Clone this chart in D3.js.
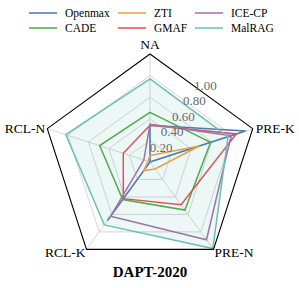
<!DOCTYPE html>
<html>
<head>
<meta charset="utf-8">
<script src="https://cdn.jsdelivr.net/npm/d3@7"></script>
<style>
  body { margin: 0; background: #fff; }
  svg { display: block; }
  text { font-family: "Liberation Serif", "Times New Roman", Times, serif; }
</style>
</head>
<body>
<div id="chart"></div>
<script>
// radar chart, DAPT-2020

var width = 299, height = 288;
var cx = 150, cy = 162, R = 108;

var axes = ["NA", "PRE-K", "PRE-N", "RCL-K", "RCL-N"];
var ticks = [0.2, 0.4, 0.6, 0.8, 1.0];
var tickLabels = ["0.20", "0.40", "0.60", "0.80", "1.00"];
var seriesNames = ["Openmax", "CADE", "ZTI", "GMAF", "ICE-CP", "MalRAG"];
var colors = ["#4C72B0", "#4DAA3F", "#F39C3C", "#E8474F", "#A66CA4", "#6CBFB5"];

var openmax = [0.34, 0.93, 0.0, 0.67, 0.0];
var cade    = [0.46, 0.59, 0.55, 0.43, 0.49];
var zti     = [0.06, 0.48, 0.08, 0.10, 0.02];
var gmaf    = [0.34, 0.84, 0.49, 0.42, 0.26];
var icecp   = [0.35, 0.79, 0.89, 0.62, 0.06];
var malrag  = [0.77, 0.76, 0.99, 0.72, 0.82];
var values = [openmax, cade, zti, gmaf, icecp, malrag];

var svg = d3.select("#chart").append("svg")
    .attr("width", width)
    .attr("height", height);

var r = d3.scaleLinear().domain([0, 1]).range([0, R]);
var angle = d3.scaleLinear().domain([0, axes.length]).range([0, 2 * Math.PI]);

function pt(i, v) {
    var a = angle(i);
    return [cx + r(v) * Math.sin(a), cy - r(v) * Math.cos(a)];
}

var line = d3.line().curve(d3.curveLinearClosed);

// grid rings
svg.selectAll(".ring")
    .data(ticks.slice(0, -1))
    .enter().append("path")
    .attr("d", function(t) { return line(axes.map(function(_, i) { return pt(i, t); })); })
    .style("fill", "none")
    .style("stroke", "#d0d0d0")
    .style("stroke-width", 0.9);

// spokes
svg.selectAll(".spoke")
    .data(axes)
    .enter().append("line")
    .attr("x1", cx).attr("y1", cy)
    .attr("x2", function(_, i) { return pt(i, 1)[0]; })
    .attr("y2", function(_, i) { return pt(i, 1)[1]; })
    .style("stroke", "#d0d0d0")
    .style("stroke-width", 0.9);

// series
svg.selectAll(".series")
    .data(values)
    .enter().append("path")
    .attr("d", function(vals) { return line(vals.map(function(v, i) { return pt(i, v); })); })
    .style("fill", function(_, k) { return seriesNames[k] === "MalRAG" ? colors[k] : "none"; })
    .style("fill-opacity", 0.12)
    .style("stroke", function(_, k) { return colors[k]; })
    .style("stroke-width", 1.5)
    .style("stroke-linejoin", "miter");

// outer frame
svg.append("path")
    .attr("d", line(axes.map(function(_, i) { return pt(i, 1); })))
    .style("fill", "none")
    .style("stroke", "#000")
    .style("stroke-width", 1.1);

// radial tick labels along ~35 deg
var labA = 35.4 * Math.PI / 180;
svg.selectAll(".tick")
    .data(ticks)
    .enter().append("text")
    .attr("x", function(t) { return cx + r(t) * 0.886 * Math.sin(labA); })
    .attr("y", function(t) { return cy + 1 - r(t) * 0.886 * Math.cos(labA); })
    .attr("text-anchor", "middle")
    .attr("dy", "0.35em")
    .style("font-size", "13px")
    .style("fill", "#6a6a6a")
    .text(function(_, i) { return tickLabels[i]; });

// axis labels
var labelPos = [
    { dx: 0, dy: -10, anchor: "middle" },
    { dx: 3, dy: 0, anchor: "start" },
    { dx: 1, dy: 3, anchor: "start" },
    { dx: -1, dy: 3, anchor: "end" },
    { dx: -2, dy: 0, anchor: "end" }
];
svg.selectAll(".axis-label")
    .data(axes)
    .enter().append("text")
    .attr("x", function(_, i) { return pt(i, 1)[0] + labelPos[i].dx; })
    .attr("y", function(_, i) { return pt(i, 1)[1] + labelPos[i].dy; })
    .attr("text-anchor", function(_, i) { return labelPos[i].anchor; })
    .attr("dy", "0.35em")
    .style("font-size", "13.5px")
    .style("fill", "#000")
    .text(function(d) { return d; });

// legend, 3 columns x 2 rows (column-wise)
var legX = [29, 118, 195], legY = [13, 28];
var leg = svg.selectAll(".leg")
    .data(seriesNames)
    .enter().append("g")
    .attr("transform", function(_, k) {
        return "translate(" + legX[Math.floor(k / 2)] + "," + legY[k % 2] + ")";
    });
leg.append("line")
    .attr("x1", 0).attr("x2", 28)
    .style("stroke", function(_, k) { return colors[k]; })
    .style("stroke-width", 1.5);
leg.append("text")
    .attr("x", 36)
    .attr("dy", "0.35em")
    .style("font-size", "11.5px")
    .text(function(d) { return d; });

// title
svg.append("text")
    .attr("x", 150)
    .attr("y", 277)
    .attr("text-anchor", "middle")
    .style("font-size", "15px")
    .style("font-weight", "bold")
    .text("DAPT-2020");
</script>
</body>
</html>
